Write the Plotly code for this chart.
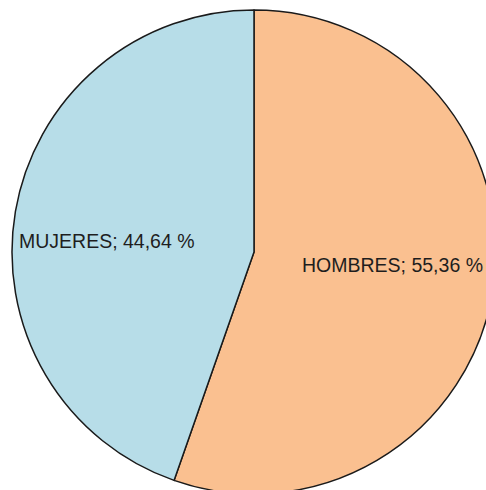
import plotly.graph_objects as go

labels = ["HOMBRES", "MUJERES"]
values = [55.36, 44.64]
colors = ["#FAC090", "#B7DDE8"]

W, H = 496, 494
fig = go.Figure(go.Pie(
    labels=labels, values=values, sort=False, direction="clockwise", rotation=0,
    marker=dict(colors=colors, line=dict(color="#1a1a1a", width=1.5)),
    textinfo="none", hoverinfo="label+percent", showlegend=False,
    domain=dict(x=[12/W, 1], y=[0, 484/H]),
))

def fmt(v):
    return ("%.2f" % v).replace(".", ",") + " %"

label_pos = {"HOMBRES": (300, 265), "MUJERES": (17, 240.5)}
for lab, val in zip(labels, values):
    px, py = label_pos[lab]
    fig.add_annotation(x=px / W, y=1 - py / H, xref="paper", yref="paper",
                       text=f"{lab}; {fmt(val)}", showarrow=False,
                       xanchor="left", yanchor="middle",
                       font=dict(family="Liberation Sans, Arial, sans-serif", size=19.5, color="#1e1e1e"))

fig.update_layout(width=W, height=H, margin=dict(l=0, r=0, t=0, b=0),
                  paper_bgcolor="white", plot_bgcolor="white")
fig.write_html("out.html", config={"displayModeBar": False}, post_script=(
    "document.body.style.margin='0';"
    "document.body.style.overflow='hidden';"
    "document.documentElement.style.overflow='hidden';"))
